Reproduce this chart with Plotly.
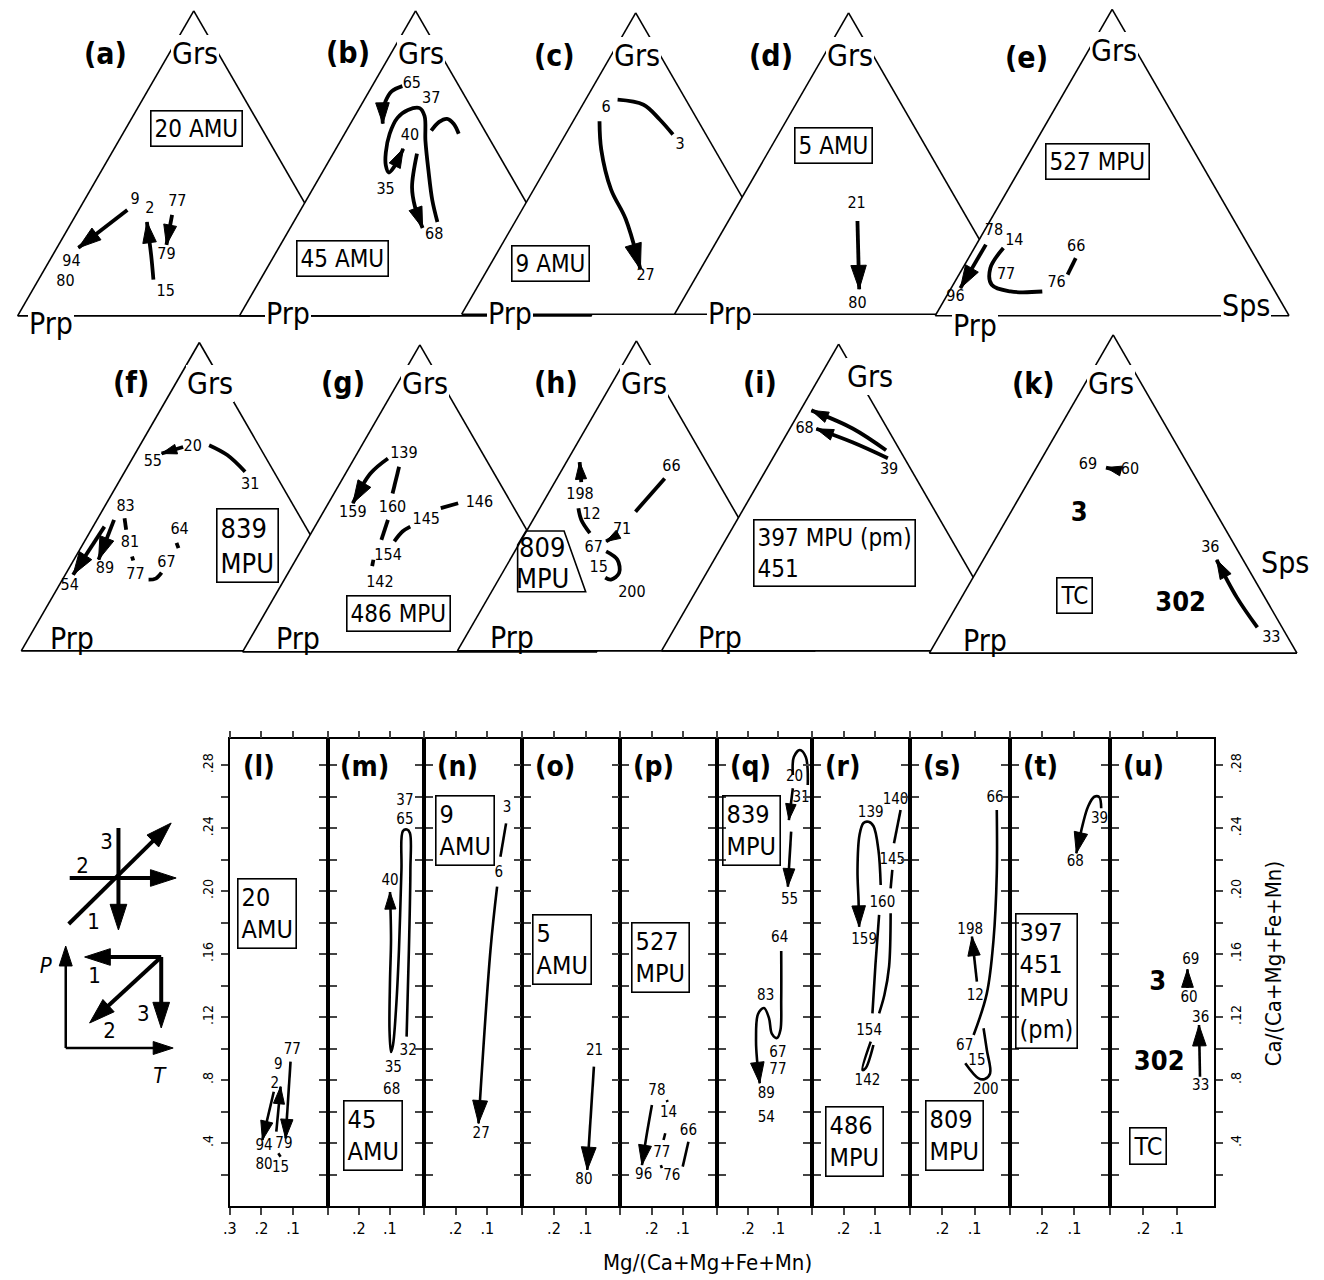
import plotly.graph_objects as go

FONT = "DejaVu Sans Condensed, DejaVu Sans, sans-serif"
W, H = 1324, 1280
PAGE_OFFSET = 8  # html body margin in front of the figure

# ---------------- ternary diagrams (a)-(k) ----------------
# every point is (Grs, Sps) as mole fraction, Prp is the remainder
tern_a = [[(0.347, 0.138), (0.223, 0.061)],
          [(0.119, 0.326), (0.200, 0.279), (0.308, 0.213)],
          [(0.331, 0.273), (0.233, 0.306)]]
tern_a_labels = [("9", 0.379, 0.144), ("2", 0.350, 0.200), ("77", 0.373, 0.267), ("79", 0.201, 0.322),
                 ("94", 0.178, 0.064), ("80", 0.110, 0.081), ("15", 0.077, 0.382)]

tern_b = [[(0.753, 0.086), (0.736, 0.064), (0.704, 0.063), (0.665, 0.074), (0.630, 0.092)],
          [(0.308, 0.408), (0.379, 0.358), (0.477, 0.298), (0.574, 0.241), (0.655, 0.198), (0.681, 0.171),
           (0.675, 0.141), (0.649, 0.124), (0.597, 0.128), (0.535, 0.148), (0.493, 0.169), (0.470, 0.189),
           (0.490, 0.195), (0.548, 0.191)],
          [(0.532, 0.238), (0.422, 0.279), (0.357, 0.320), (0.288, 0.376)],
          [(0.607, 0.241), (0.636, 0.249), (0.646, 0.266), (0.630, 0.293), (0.597, 0.324)]]
tern_b_labels = [("65", 0.759, 0.110), ("37", 0.711, 0.189), ("40", 0.590, 0.189), ("35", 0.412, 0.209),
                 ("68", 0.266, 0.420)]

tern_c = [[(0.712, 0.092), (0.695, 0.175), (0.646, 0.246), (0.596, 0.309)],
          [(0.640, 0.076), (0.546, 0.128), (0.414, 0.222), (0.315, 0.314), (0.149, 0.439)]]
tern_c_labels = [("6", 0.684, 0.073), ("3", 0.563, 0.346), ("27", 0.127, 0.465)]

tern_d = [[(0.309, 0.371), (0.083, 0.489)]]
tern_d_labels = [("21", 0.364, 0.341), ("80", 0.033, 0.509)]

tern_e = [[(0.232, 0.027), (0.090, 0.026)],
          [(0.221, 0.082), (0.155, 0.078), (0.101, 0.109), (0.079, 0.173), (0.079, 0.263)],
          [(0.188, 0.303), (0.134, 0.307)]]
tern_e_labels = [("78", 0.276, 0.028), ("14", 0.245, 0.101), ("66", 0.223, 0.287), ("77", 0.134, 0.133),
                 ("76", 0.106, 0.290), ("96", 0.062, 0.026)]

tern_f = [[(0.661, 0.124), (0.640, 0.074)],
          [(0.667, 0.194), (0.635, 0.261), (0.581, 0.338)],
          [(0.403, 0.032), (0.247, 0.022)],
          [(0.425, 0.048), (0.296, 0.069)],
          [(0.430, 0.075), (0.393, 0.098)],
          [(0.306, 0.158), (0.293, 0.168)],
          [(0.231, 0.242), (0.2345, 0.260), (0.254, 0.267)],
          [(0.350, 0.261), (0.333, 0.275)]]
tern_f_labels = [("55", 0.613, 0.063), ("20", 0.661, 0.151), ("31", 0.538, 0.374), ("83", 0.468, 0.059),
                 ("81", 0.350, 0.130), ("64", 0.393, 0.248), ("89", 0.264, 0.103), ("77", 0.247, 0.197),
                 ("67", 0.285, 0.265), ("54", 0.210, 0.031)]

tern_g = [[(0.630, 0.095), (0.581, 0.070), (0.484, 0.069)],
          [(0.603, 0.140), (0.516, 0.165)],
          [(0.430, 0.195), (0.365, 0.209)],
          [(0.408, 0.269), (0.392, 0.255), (0.360, 0.248)],
          [(0.468, 0.325), (0.484, 0.366)],
          [(0.300, 0.219), (0.279, 0.226)]]
tern_g_labels = [("139", 0.646, 0.132), ("159", 0.452, 0.085), ("160", 0.468, 0.189), ("145", 0.430, 0.303),
                 ("154", 0.311, 0.255), ("142", 0.225, 0.275), ("146", 0.484, 0.426)]

tern_h = [[(0.544, 0.074), (0.609, 0.037)],
          [(0.460, 0.108), (0.4225, 0.135), (0.380, 0.180)],
          [(0.556, 0.301), (0.449, 0.273)],
          [(0.374, 0.260), (0.353, 0.239)],
          [(0.321, 0.255), (0.294, 0.300), (0.2515, 0.326), (0.230, 0.314), (0.236, 0.295)]]
tern_h_labels = [("198", 0.503, 0.091), ("12", 0.4386, 0.155), ("71", 0.390, 0.265), ("66", 0.5935, 0.301),
                 ("67", 0.332, 0.215), ("15", 0.2676, 0.261), ("200", 0.187, 0.394)]

tern_i = [[(0.654, 0.307), (0.725, 0.177), (0.784, 0.031)],
          [(0.628, 0.325), (0.680, 0.199), (0.724, 0.075)]]
tern_i_labels = [("68", 0.724, 0.042), ("39", 0.589, 0.348)]

tern_k = [[(0.572, 0.236), (0.583, 0.189)],
          [(0.0807, 0.852), (0.176, 0.748), (0.293, 0.635)]]
tern_k_labels = [("69", 0.591, 0.136), ("60", 0.575, 0.258), ("36", 0.3306, 0.599), ("33", 0.0488, 0.906)]
tern_k_big = [("3", 0.437, 0.189), ("302", 0.155, 0.606)]

# ---------------- Mg vs Ca sections (l)-(u) ----------------
# every point is (Mg/(Ca+Mg+Fe+Mn), Ca/(Ca+Mg+Fe+Mn))
sec_l = [[(0.161, 0.0726), (0.197, 0.0419)],
         [(0.153, 0.0472), (0.1395, 0.0758)],
         [(0.108, 0.0917), (0.1237, 0.043)],
         [(0.1467, 0.0335), (0.1395, 0.0313)]]
sec_l_labels = [("77", 0.1026, 0.0991), ("9", 0.1467, 0.0895), ("2", 0.1574, 0.0775), ("94", 0.192, 0.0381),
                ("79", 0.129, 0.0394), ("80", 0.192, 0.026), ("15", 0.1395, 0.024)]

sec_m = [[(0.0456, 0.1076), (0.0382, 0.1626), (0.0334, 0.2135), (0.035, 0.237), (0.0446, 0.2392),
          (0.0575, 0.2382), (0.0623, 0.2135), (0.0703, 0.1626), (0.080, 0.1245), (0.0896, 0.1023),
          (0.096, 0.0978), (0.1008, 0.1118), (0.0992, 0.1436), (0.096, 0.169), (0.0992, 0.1995)]]
sec_m_labels = [("37", 0.051, 0.2569), ("65", 0.051, 0.2452), ("40", 0.0992, 0.206), ("32", 0.0404, 0.098),
                ("35", 0.0886, 0.0875), ("68", 0.0938, 0.0737)]

sec_n = [[(0.0411, 0.2431), (0.0589, 0.2219)],
         [(0.0693, 0.2029), (0.0902, 0.1626), (0.1278, 0.0525)]]
sec_n_labels = [("3", 0.038, 0.2527), ("6", 0.0642, 0.2117), ("27", 0.1194, 0.0455)]

sec_o = [[(0.0739, 0.0885), (0.0949, 0.0229)]]
sec_o_labels = [("21", 0.0717, 0.098), ("80", 0.1053, 0.0165)]

sec_p = [[(0.1993, 0.0642), (0.2162, 0.0451), (0.2312, 0.026)],
         [(0.1515, 0.0673), (0.1493, 0.0661)],
         [(0.1566, 0.0462), (0.1621, 0.0419)],
         [(0.1707, 0.026), (0.1675, 0.024)],
         [(0.0824, 0.0408), (0.1006, 0.025)]]
sec_p_labels = [("78", 0.1834, 0.0726), ("14", 0.1461, 0.0589), ("66", 0.0824, 0.0472), ("77", 0.1675, 0.0335),
                ("96", 0.2258, 0.0197), ("76", 0.1356, 0.0186)]

sec_q = [[(0.052, 0.2738), (0.0488, 0.2852), (0.0292, 0.2897), (0.0096, 0.2852), (0.0031, 0.2675)],
         [(0.052, 0.2654), (0.0651, 0.2452)],
         [(0.0576, 0.2378), (0.0684, 0.2029)],
         [(0.0902, 0.162), (0.0902, 0.1309), (0.0928, 0.1118), (0.1042, 0.1067), (0.1206, 0.1093),
          (0.1303, 0.1194), (0.1467, 0.1258), (0.1662, 0.122), (0.1728, 0.1055), (0.1695, 0.0928),
          (0.1607, 0.078)]]
sec_q_labels = [("20", 0.0465, 0.2727), ("31", 0.025, 0.259), ("55", 0.0628, 0.1944), ("64", 0.0954, 0.1701),
                ("83", 0.1411, 0.133), ("67", 0.101, 0.097), ("77", 0.101, 0.0864), ("89", 0.1392, 0.071),
                ("54", 0.1392, 0.0557)]

sec_r = [[(0.083, 0.2039), (0.0902, 0.2262), (0.1059, 0.2414), (0.1215, 0.2441), (0.1372, 0.2433),
          (0.1497, 0.2357), (0.156, 0.2135), (0.1528, 0.1944), (0.1507, 0.1774)],
         [(0.0204, 0.2516), (0.0411, 0.2304)],
         [(0.0464, 0.2135), (0.0517, 0.2018)],
         [(0.0517, 0.186), (0.0567, 0.152), (0.0714, 0.134), (0.088, 0.1224)],
         [(0.088, 0.1849), (0.0996, 0.1531), (0.109, 0.1224)],
         [(0.1143, 0.1044), (0.1403, 0.0864), (0.130, 0.0877), (0.1059, 0.1023)]]
sec_r_labels = [("139", 0.1143, 0.2495), ("140", 0.0361, 0.2579), ("145", 0.0464, 0.2198), ("160", 0.0777, 0.1923),
                ("159", 0.135, 0.169), ("154", 0.1193, 0.1107), ("142", 0.1247, 0.079)]

sec_s = [[(0.0311, 0.2516), (0.0311, 0.2114), (0.0413, 0.169), (0.062, 0.1351), (0.1031, 0.1086)],
         [(0.0929, 0.1425), (0.1083, 0.1711)],
         [(0.0722, 0.1129), (0.062, 0.0991), (0.0518, 0.0843), (0.0682, 0.0807), (0.0876, 0.0811),
          (0.1291, 0.0907)]]
sec_s_labels = [("66", 0.0363, 0.259), ("198", 0.1136, 0.1753), ("12", 0.0981, 0.133), ("67", 0.1309, 0.1012),
                ("15", 0.0929, 0.0917), ("200", 0.0651, 0.0737)]

sec_t = [[(0.0169, 0.2527), (0.0231, 0.2598), (0.0385, 0.260), (0.0579, 0.2537), (0.0734, 0.2431),
          (0.0941, 0.2241)]]
sec_t_labels = [("39", 0.0221, 0.2459), ("68", 0.0972, 0.2187)]

sec_u = [[(0.0688, 0.1385), (0.0688, 0.1504)],
         [(0.0315, 0.0821), (0.0344, 0.115)]]
sec_u_labels = [("69", 0.059, 0.1563), ("60", 0.0641, 0.132), ("36", 0.0294, 0.1192), ("33", 0.0294, 0.0758)]
sec_u_big = [("3", 0.1577, 0.1415), ("302", 0.153, 0.0907)]

mg_ticks = [0.3, 0.2, 0.1]
mg_ticktext = [".3", ".2", ".1"]
ca_ticks = [0.02, 0.04, 0.06, 0.08, 0.10, 0.12, 0.14, 0.16, 0.18, 0.20, 0.22, 0.24, 0.26, 0.28]
ca_ticktext = ["", ".4", "", ".8", "", ".12", "", ".16", "", ".20", "", ".24", "", ".28"]

# schematic key (P-T directions), arbitrary units
key_cross = [[(6.3, 22.2), (17.0, 22.2)], [(11.2, 27.2), (11.2, 17.0)], [(6.2, 17.6), (16.5, 27.7)]]
key_axes = [[(5.9, 5.2), (5.9, 15.4)], [(5.9, 5.2), (16.7, 5.2)]]
key_paths = [[(15.5, 14.3), (7.8, 14.3)], [(15.5, 14.3), (8.3, 7.7)], [(15.5, 14.3), (15.5, 7.2)]]
key_labels = [("3", 10.0, 25.7), ("2", 7.6, 23.3), ("1", 8.7, 17.7), ("<i>P</i>", 3.9, 13.3),
              ("<i>T</i>", 15.3, 2.3), ("1", 8.8, 12.3), ("2", 10.3, 6.8), ("3", 13.7, 8.5)]


def fx(p):
    return min(1.0, max(0.0, (p - PAGE_OFFSET) / W))


def fy(p):
    return min(1.0, max(0.0, 1 - (p - PAGE_OFFSET) / H))


def head_marker(sizes):
    return dict(symbol="arrow", angleref="previous", color="black", opacity=1,
                line=dict(color="black", width=1), size=sizes)


fig = go.Figure()

# ---- ternary subplots: (data, labels, big labels, arrowhead sizes, apex x, apex y, height)
ternaries = [
    (tern_a, tern_a_labels, [], [24, 22, 21], 187.7, 10, 306.7),
    (tern_b, tern_b_labels, [], [22, 20, 22, 0], 410.7, 10, 306.7),
    (tern_c, tern_c_labels, [], [0, 27], 632, 12, 303),
    (tern_d, tern_d_labels, [], [25], 846, 12, 303),
    (tern_e, tern_e_labels, [], [24, 0, 0], 1111, 8.5, 308),
    (tern_f, tern_f_labels, [], [16, 0, 24, 24, 0, 0, 0, 0], 193.3, 341.7, 310),
    (tern_g, tern_g_labels, [], [24, 0, 0, 0, 0, 0], 415, 344, 308.7),
    (tern_h, tern_h_labels, [], [18, 0, 0, 15, 0], 632.7, 340, 311.7),
    (tern_i, tern_i_labels, [], [18, 18], 836, 343.3, 308.4),
    (tern_k, tern_k_labels, tern_k_big, [16, 20], 1112, 334, 320),
]
tax = dict(showline=True, linecolor="black", linewidth=1.6, showgrid=False, showticklabels=False,
           ticks="", title=dict(text=""))
for i, (paths, labels, big, heads, ax_x, ax_y, th) in enumerate(ternaries):
    sub = "ternary" if i == 0 else f"ternary{i + 1}"
    half = th / 3 ** 0.5
    fig.update_layout({sub: dict(domain=dict(x=[fx(ax_x - half), fx(ax_x + half)], y=[fy(ax_y + th), fy(ax_y)]),
                                 sum=1, bgcolor="white", aaxis=tax, baxis=tax, caxis=tax)})
    for pts, head in zip(paths, heads):
        grs = [p[0] for p in pts]
        sps = [p[1] for p in pts]
        prp = [1 - g - s for g, s in pts]
        fig.add_trace(go.Scatterternary(
            a=grs, b=prp, c=sps, subplot=sub, mode="lines+markers" if head else "lines",
            line=dict(color="black", width=3.8, shape="spline"),
            marker=head_marker([0] * (len(pts) - 1) + [head]),
            cliponaxis=False, hoverinfo="skip", showlegend=False))
    for lab, sz, bold in ((labels, 16, False), (big, 27, True)):
        if not lab:
            continue
        txt = [("<b>%s</b>" % t) if bold else t for t, _, _ in lab]
        fig.add_trace(go.Scatterternary(
            a=[g for _, g, _ in lab], c=[s for _, _, s in lab], b=[1 - g - s for _, g, s in lab],
            subplot=sub, mode="text", text=txt, textfont=dict(size=sz, color="black", family=FONT),
            cliponaxis=False, hoverinfo="skip", showlegend=False))

# ---- section panels
sections = [
    (sec_l, sec_l_labels, [], [20, 18, 20, 0]),
    (sec_m, sec_m_labels, [], [18]),
    (sec_n, sec_n_labels, [], [0, 24]),
    (sec_o, sec_o_labels, [], [24]),
    (sec_p, sec_p_labels, [], [21, 0, 0, 0, 0]),
    (sec_q, sec_q_labels, [], [0, 17, 19, 22]),
    (sec_r, sec_r_labels, [], [22, 0, 0, 0, 0, 0]),
    (sec_s, sec_s_labels, [], [0, 20, 0]),
    (sec_t, sec_t_labels, [], [22]),
    (sec_u, sec_u_labels, sec_u_big, [19, 22]),
]
tags = ["(l)", "(m)", "(n)", "(o)", "(p)", "(q)", "(r)", "(s)", "(t)", "(u)"]
borders = [224, 322.5, 419, 518, 616.7, 714, 809, 908, 1008.3, 1108.7, 1213.3]
ydom = [fy(1206), fy(739.3)]
annotations = []
for i, (paths, labels, big, heads) in enumerate(sections):
    n = "" if i == 0 else str(i + 1)
    xa, ya = "x" + n, "y" + n
    fig.update_layout({
        "xaxis" + n: dict(domain=[fx(borders[i]), fx(borders[i + 1])], range=[0.3, -0.01], anchor=ya,
                          showline=True, linecolor="black", linewidth=1.6, mirror="ticks", ticks="outside",
                          ticklen=7, tickwidth=2, tickvals=mg_ticks,
                          ticktext=mg_ticktext if i == 0 else [""] + mg_ticktext[1:],
                          tickfont=dict(size=16, family=FONT), showgrid=False, zeroline=False),
        "yaxis" + n: dict(domain=ydom, range=[0, 0.2965], anchor=xa, showline=True, linecolor="black",
                          linewidth=1.6, mirror="ticks", ticks="outside", ticklen=7, tickwidth=2,
                          tickvals=ca_ticks, ticktext=ca_ticktext, showticklabels=(i == 0), tickangle=-90,
                          ticklabelstandoff=2,
                          tickfont=dict(size=14, family=FONT), showgrid=False, zeroline=False),
    })
    for pts, head in zip(paths, heads):
        fig.add_trace(go.Scatter(
            x=[p[0] for p in pts], y=[p[1] for p in pts], xaxis=xa, yaxis=ya,
            mode="lines+markers" if head else "lines",
            line=dict(color="black", width=2.6, shape="spline"),
            marker=head_marker([0] * (len(pts) - 1) + [head]),
            cliponaxis=False, hoverinfo="skip", showlegend=False))
    for lab, sz, bold in ((labels, 15, False), (big, 27, True)):
        if not lab:
            continue
        fig.add_trace(go.Scatter(
            x=[x for _, x, _ in lab], y=[y for _, _, y in lab], xaxis=xa, yaxis=ya, mode="text",
            text=[("<b>%s</b>" % t) if bold else t for t, _, _ in lab],
            textfont=dict(size=sz, color="black", family=FONT), cliponaxis=False,
            hoverinfo="skip", showlegend=False))
    annotations.append(dict(text="<b>%s</b>" % tags[i], xref=xa, yref=ya, x=0.266, y=0.2795,
                            xanchor="left", yanchor="middle", showarrow=False,
                            font=dict(size=28, family=FONT, color="black")))

# right-hand Ca labels
fig.update_layout(yaxis11=dict(overlaying="y10", anchor="x10", side="right", range=[0, 0.2965],
                               tickvals=ca_ticks, ticktext=ca_ticktext, tickangle=-90, ticks="",
                               ticklabelstandoff=12, showline=False, showgrid=False, zeroline=False,
                               tickfont=dict(size=14, family=FONT)))
fig.add_trace(go.Scatter(x=[0.2], y=[0.1], xaxis="x10", yaxis="y11", mode="markers",
                         marker=dict(size=0, opacity=0), hoverinfo="skip", showlegend=False))

# ---- schematic key
fig.update_layout(xaxis12=dict(domain=[fx(8), fx(198)], range=[0.8, 19.8], anchor="y12", visible=False),
                  yaxis12=dict(domain=[fy(1100), fy(800)], range=[0, 30], anchor="x12", visible=False))
for group, width, head in ((key_cross, 4, 27), (key_axes, 2.5, 21), (key_paths, 4, 27)):
    for pts in group:
        fig.add_trace(go.Scatter(
            x=[p[0] for p in pts], y=[p[1] for p in pts], xaxis="x12", yaxis="y12", mode="lines+markers",
            line=dict(color="black", width=width), marker=head_marker([0, head]),
            hoverinfo="skip", showlegend=False))
fig.add_trace(go.Scatter(x=[x for _, x, _ in key_labels], y=[y for _, _, y in key_labels], xaxis="x12",
                         yaxis="y12", mode="text", text=[t for t, _, _ in key_labels],
                         textfont=dict(size=22, family=FONT, color="black"), hoverinfo="skip",
                         showlegend=False))


def note(text, x, y, size, bold=False, bg=None, box=False, align="center", angle=0):
    return dict(text="<b>%s</b>" % text if bold else text, x=fx(x), y=fy(y), xref="paper", yref="paper",
                showarrow=False, xanchor="center", yanchor="middle", align=align, textangle=angle,
                font=dict(size=size, family=FONT, color="black"),
                bgcolor=bg if bg else "rgba(0,0,0,0)",
                bordercolor="black" if box else "rgba(0,0,0,0)", borderwidth=1.6 if box else 0,
                borderpad=3 if box else 1)


# ternary corner labels and panel tags
for t, x, y in [("(a)", 99, 53), ("(b)", 343, 52), ("(c)", 550, 55), ("(d)", 768, 55), ("(e)", 1025, 57),
                ("(f)", 125, 382), ("(g)", 338, 382), ("(h)", 552, 382), ("(i)", 757, 382), ("(k)", 1032, 384)]:
    annotations.append(note(t, x, y, 30, bold=True))
for x, y in [(189, 54), (416, 53), (633, 56), (847, 56), (1113, 51),
             (204, 383), (420, 383), (640, 383), (868, 376), (1110, 383)]:
    annotations.append(note("Grs", x, y, 30, bg="white"))
for x, y, bg in [(44, 323, "white"), (282, 314, "white"), (506, 314, "white"), (727, 314, "white"),
                 (973, 325, "white"), (65, 638, None), (293, 638, None), (508, 637, None), (717, 637, None),
                 (983, 640, None)]:
    annotations.append(note("Prp", x, y, 30, bg=bg))
annotations.append(note("Sps", 1246, 305, 30, bg="white"))
annotations.append(note("Sps", 1285, 562, 30))

# sample boxes in the ternaries
for t, x, y, s in [("20 AMU", 190, 128.5, 24), ("45 AMU", 337, 258, 24), ("9 AMU", 546.7, 263.3, 24),
                   ("5 AMU", 830.5, 146, 24), ("527 MPU", 1096, 161.7, 24), ("839<br>MPU", 241.7, 545, 27),
                   ("486 MPU", 394, 613.5, 24), ("397 MPU (pm)<br>451", 832, 552.5, 24), ("TC", 1073.3, 595, 24)]:
    annotations.append(note(t, x, y, s, box=True, align="left"))
annotations.append(note("809", 538.3, 547, 27))
annotations.append(note("MPU", 538.3, 578.5, 27))

# sample boxes in the sections
for t, x, y in [("20<br>AMU", 261.7, 913.7), ("45<br>AMU", 367.5, 1135), ("9<br>AMU", 460, 830.8),
                ("5<br>AMU", 558.3, 949.7), ("527<br>MPU", 656.7, 957.2), ("839<br>MPU", 748.3, 830.8),
                ("486<br>MPU", 852.2, 1141.7), ("809<br>MPU", 952, 1135.8),
                ("397<br>451<br>MPU<br>(pm)", 1045.3, 980.5), ("TC", 1146.7, 1146)]:
    annotations.append(note(t, x, y, 25, box=True, align="left"))

annotations.append(note("Mg/(Ca+Mg+Fe+Mn)", 704, 1262, 22))
annotations.append(note("Ca/(Ca+Mg+Fe+Mn)", 1273, 964, 22, angle=-90))

trap = "M {} {} L {} {} L {} {} L {} {} L {} {} Z".format(
    fx(521.7), fy(531), fx(560), fy(531), fx(581.7), fy(591.7), fx(513.3), fy(591.7), fx(513.3), fy(545))

fig.update_layout(
    width=W, height=H, autosize=False, margin=dict(l=0, r=0, t=0, b=0),
    paper_bgcolor="white", plot_bgcolor="white", hovermode=False, showlegend=False,
    font=dict(family=FONT, color="black"),
    annotations=annotations,
    shapes=[dict(type="path", path=trap, xref="paper", yref="paper", line=dict(color="black", width=1.6))],
)

fig.write_html("out.html")
